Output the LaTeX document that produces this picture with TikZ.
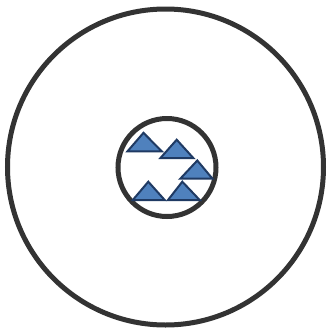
\documentclass[tikz,border=0pt]{standalone}
\usepackage{tikz}
\definecolor{ringgray}{HTML}{333333}
\definecolor{trifill}{HTML}{4F81BD}
\definecolor{triedge}{HTML}{1F3A63}
\tikzset{
  ring/.style={draw=ringgray,line width=5pt},
  tri/.style={fill=trifill,draw=triedge,line width=2pt,line join=miter}
}
\begin{document}
\begin{tikzpicture}[x=1pt,y=-1pt]
\useasboundingbox (0,0) rectangle (329,333);
\fill[white] (0,0) rectangle (329,333);
\draw[ring] (165.5,167) circle (158);
\draw[ring] (167,167.5) circle (49);
\draw[tri] (127.5,151.3) -- (143.5,132.8) -- (161.7,151.3) -- cycle;
\draw[tri] (160.5,158) -- (176.7,139.7) -- (193.3,158) -- cycle;
\draw[tri] (180.3,178.7) -- (197.3,160.5) -- (212.5,178.7) -- cycle;
\draw[tri] (132.8,200) -- (148.3,181.7) -- (164.7,200) -- cycle;
\draw[tri] (168,200) -- (182.3,181.7) -- (199.7,200) -- cycle;
\end{tikzpicture}
\end{document}
